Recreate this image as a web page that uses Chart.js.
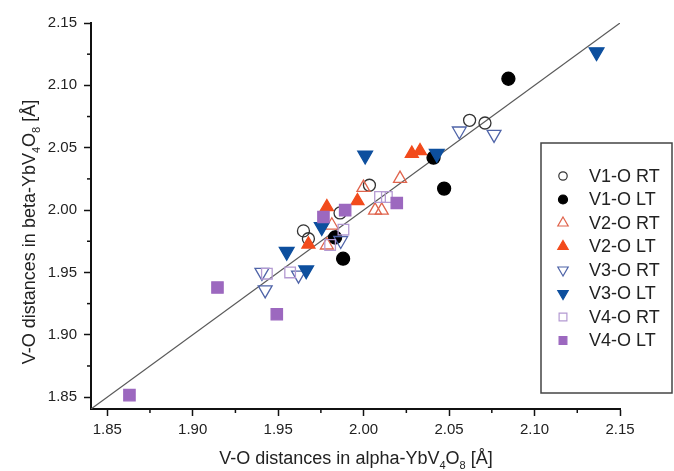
<!DOCTYPE html>
<html>
<head>
<meta charset="utf-8">
<script src="https://cdn.jsdelivr.net/npm/chart.js@4.4.0/dist/chart.umd.min.js"></script>
<style>
  html, body { margin: 0; padding: 0; background: #fff; }
  #wrap { width: 674px; height: 471px; }
</style>
</head>
<body>
<div id="wrap"><canvas id="chart" width="674" height="471"></canvas></div>
<script>
  // [alpha, beta] V-O distances
  const v1RT = [[1.9648, 1.9833], [1.9677, 1.977], [1.9862, 1.9977], [2.0034, 2.0199], [2.062, 2.072], [2.071, 2.0698]];
  const v1LT = [[1.9833, 1.978], [1.988, 1.961], [2.0409, 2.042], [2.0471, 2.0172], [2.0847, 2.1053]];
  const v2RT = [[1.9785, 1.9718], [1.9814, 1.9878], [1.9999, 2.018], [2.0067, 1.9998], [2.0106, 1.9998], [2.0213, 2.0252]];
  const v2LT = [[1.9677, 1.9725], [1.9785, 2.0025], [1.9964, 2.0073], [2.0282, 2.0453], [2.033, 2.0474]];
  const v3RT = [[1.9405, 1.950], [1.9424, 1.936], [1.9619, 1.9478], [1.9866, 1.9756], [2.056, 2.0634], [2.0763, 2.0607]];
  const v3LT = [[1.955, 1.9667], [1.9664, 1.9518], [1.9755, 1.9865], [2.0009, 2.0439], [2.0428, 2.0453], [2.1363, 2.1267]];
  const v4RT = [[1.9434, 1.949], [1.957, 1.950], [1.9804, 1.972], [1.9882, 1.9843], [2.0096, 2.0105], [2.0136, 2.0105]];
  const v4LT = [[1.863, 1.8516], [1.9145, 1.9379], [1.9492, 1.9165], [1.9765, 1.9945], [1.9892, 2.0], [2.0194, 2.0057]];
  const diagonal = [[1.8405, 1.8405], [2.15, 2.15]];

  const majorTicks = [1.85, 1.90, 1.95, 2.00, 2.05, 2.10, 2.15];
  const minorTicks = [1.875, 1.925, 1.975, 2.025, 2.075, 2.125];
  const axisMin = 1.8405, axisMax = 2.15;

  const FONT = "'Liberation Sans', Arial, sans-serif";

  const series = [
    { label: 'V1-O RT', data: v1RT, style: 'circle', rot: 0, fill: 'rgba(0,0,0,0)', stroke: '#333', r: 6, lr: 4.2 },
    { label: 'V1-O LT', data: v1LT, style: 'circle', rot: 0, fill: '#000', stroke: '#000', r: 6.5, lr: 4.5 },
    { label: 'V2-O RT', data: v2RT, style: 'triangle', rot: 0, fill: 'rgba(0,0,0,0)', stroke: '#e0644d', r: 7.5, lr: 6 },
    { label: 'V2-O LT', data: v2LT, style: 'triangle', rot: 0, fill: '#f24b1c', stroke: '#f24b1c', r: 7.5, lr: 6 },
    { label: 'V3-O RT', data: v3RT, style: 'triangle', rot: 180, fill: 'rgba(0,0,0,0)', stroke: '#4f64a8', r: 8, lr: 6 },
    { label: 'V3-O LT', data: v3LT, style: 'triangle', rot: 180, fill: '#0d4f9e', stroke: '#0d4f9e', r: 8.5, lr: 6 },
    { label: 'V4-O RT', data: v4RT, style: 'rect', rot: 0, fill: 'rgba(0,0,0,0)', stroke: '#b49ad2', r: 7.5, lr: 5.5 },
    { label: 'V4-O LT', data: v4LT, style: 'rect', rot: 0, fill: '#9c68bf', stroke: '#9c68bf', r: 8, lr: 5.5 },
  ];

  const toXY = arr => arr.map(([x, y]) => ({ x, y }));

  const datasets = series.map((s, i) => ({
    label: s.label,
    data: toXY(s.data),
    pointStyle: s.style,
    rotation: s.rot,
    pointRadius: s.r,
    pointHoverRadius: s.r,
    backgroundColor: s.fill,
    borderColor: s.stroke,
    borderWidth: 1.3,
    order: series.length - i,
  }));
  datasets.push({
    label: 'diagonal',
    data: toXY(diagonal),
    showLine: true,
    pointRadius: 0,
    borderColor: '#5a5a5a',
    borderWidth: 1.2,
    order: 20,
  });

  function drawRich(ctx, parts, x, y, size) {
    const main = `${size}px ${FONT}`;
    const sub = `${Math.round(size * 0.62)}px ${FONT}`;
    let total = 0;
    parts.forEach(([t, s]) => { ctx.font = s ? sub : main; total += ctx.measureText(t).width; });
    let cx = x - total / 2;
    parts.forEach(([t, s]) => {
      ctx.font = s ? sub : main;
      ctx.fillText(t, cx, s ? y + size * 0.38 : y);
      cx += ctx.measureText(t).width;
    });
  }

  const extrasPlugin = {
    id: 'extras',
    afterDraw(chart) {
      const { ctx, scales: { x, y } } = chart;
      ctx.save();

      // minor ticks
      ctx.strokeStyle = '#111';
      ctx.lineWidth = 1.5;
      minorTicks.forEach(v => {
        const px = x.getPixelForValue(v);
        ctx.beginPath(); ctx.moveTo(px, x.top); ctx.lineTo(px, x.top + 4); ctx.stroke();
        const py = y.getPixelForValue(v);
        ctx.beginPath(); ctx.moveTo(y.right, py); ctx.lineTo(y.right - 4, py); ctx.stroke();
      });

      // axis titles
      ctx.fillStyle = '#222';
      ctx.textBaseline = 'middle';
      ctx.textAlign = 'left';
      drawRich(ctx, [['V-O distances in alpha-YbV', 0], ['4', 1], ['O', 0], ['8', 1], [' [Å]', 0]], 356, 459, 18);
      ctx.save();
      ctx.translate(30, 232);
      ctx.rotate(-Math.PI / 2);
      drawRich(ctx, [['V-O distances in beta-YbV', 0], ['4', 1], ['O', 0], ['8', 1], [' [Å]', 0]], 0, 0, 18);
      ctx.restore();

      // legend box
      const bx = 541, by = 143, bw = 131, bh = 250;
      ctx.fillStyle = '#fff';
      ctx.fillRect(bx, by, bw, bh);
      ctx.strokeStyle = '#444';
      ctx.lineWidth = 1.5;
      ctx.strokeRect(bx, by, bw, bh);
      series.forEach((s, i) => {
        const cy = 176 + i * 23.5;
        ctx.fillStyle = s.fill;
        ctx.strokeStyle = s.stroke;
        ctx.lineWidth = 1.2;
        Chart.helpers.drawPoint(ctx, { pointStyle: s.style, rotation: s.rot, radius: s.lr, borderWidth: 1.2 }, 563, cy);
        ctx.fillStyle = '#222';
        ctx.font = `18px ${FONT}`;
        ctx.textBaseline = 'middle';
        ctx.fillText(s.label, 589, cy + 1);
      });
      ctx.restore();
    }
  };

  const axisCommon = {
    type: 'linear',
    min: axisMin,
    max: axisMax,
    afterBuildTicks: scale => { scale.ticks = majorTicks.map(v => ({ value: v })); },
    border: { display: true, color: '#111', width: 2 },
    grid: { display: true, drawOnChartArea: false, drawTicks: true, tickLength: 7, tickColor: '#111', tickWidth: 1.5 },
  };

  new Chart(document.getElementById('chart'), {
    type: 'scatter',
    data: { datasets },
    options: {
      responsive: false,
      animation: false,
      layout: { padding: { top: 23, right: 54, left: 0, bottom: 0 } },
      plugins: { legend: { display: false }, tooltip: { enabled: false } },
      scales: {
        x: {
          ...axisCommon,
          position: 'bottom',
          afterFit: scale => { scale.height = 62; },
          ticks: { autoSkip: false, maxRotation: 0, padding: 5, color: '#222', font: { family: FONT, size: 15 }, callback: v => v.toFixed(2) },
        },
        y: {
          ...axisCommon,
          position: 'left',
          afterFit: scale => { scale.width = 91; },
          ticks: { autoSkip: false, padding: 7, color: '#222', font: { family: FONT, size: 15 }, callback: v => v.toFixed(2) },
        },
      },
    },
    plugins: [extrasPlugin],
  });
</script>
</body>
</html>
